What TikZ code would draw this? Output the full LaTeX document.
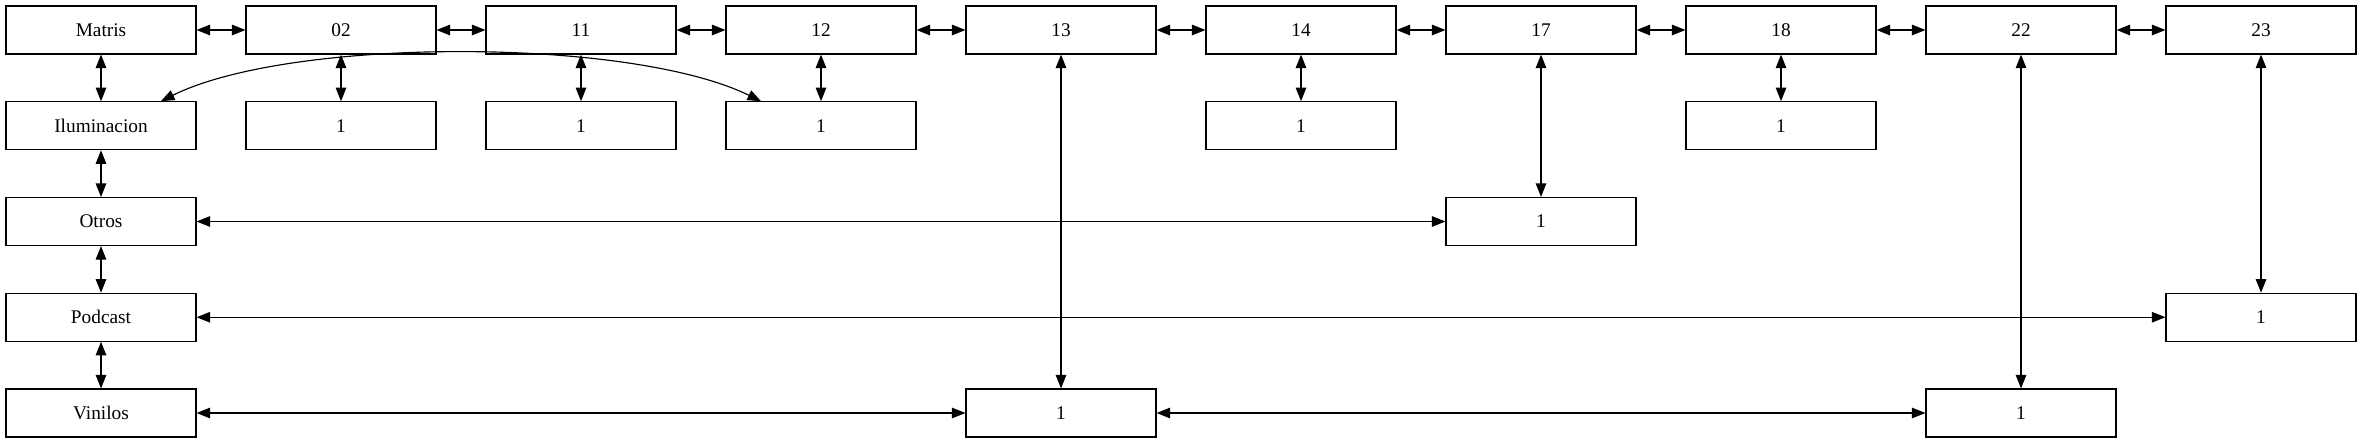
\documentclass[tikz,border=0pt]{standalone}
\usepackage{fontspec}
\setmainfont{Liberation Serif}
\usepackage{tikz}
\usetikzlibrary{arrows.meta, positioning}
\tikzset{
	boxnode/.style={draw, line width=0.65pt, minimum width=3.8cm, minimum height=0.96cm, inner sep=0pt, font=\fontsize{11}{13}\selectfont}
}
\tikzset{
	link/.style={line width=0.65pt, {Triangle[length=2.7mm,width=2.1mm]}-{Triangle[length=2.7mm,width=2.1mm]}}
}

\begin{document}
\begin{tikzpicture}
      \useasboundingbox (0,0) rectangle (47.26,-8.86);
      % top row
      \node[boxnode] (matris) at (2.02,-0.6) {Matris};
      \node[boxnode] (n02) at (6.82,-0.6) {02};
      \node[boxnode] (n11) at (11.62,-0.6) {11};
      \node[boxnode] (n12) at (16.42,-0.6) {12};
      \node[boxnode] (n13) at (21.22,-0.6) {13};
      \node[boxnode] (n14) at (26.02,-0.6) {14};
      \node[boxnode] (n17) at (30.82,-0.6) {17};
      \node[boxnode] (n18) at (35.62,-0.6) {18};
      \node[boxnode] (n22) at (40.42,-0.6) {22};
      \node[boxnode] (n23) at (45.22,-0.6) {23};
      % left column
      \node[boxnode] (ilum) at (2.02,-2.515) {Iluminacion};
      \node[boxnode] (otros) at (2.02,-4.43) {Otros};
      \node[boxnode] (podcast) at (2.02,-6.345) {Podcast};
      \node[boxnode] (vinilos) at (2.02,-8.26) {Vinilos};
      % the ones
      \node[boxnode] (a02) at (6.82,-2.515) {1};
      \node[boxnode] (a11) at (11.62,-2.515) {1};
      \node[boxnode] (a12) at (16.42,-2.515) {1};
      \node[boxnode] (a14) at (26.02,-2.515) {1};
      \node[boxnode] (a18) at (35.62,-2.515) {1};
      \node[boxnode] (a17) at (30.82,-4.43) {1};
      \node[boxnode] (a23) at (45.22,-6.345) {1};
      \node[boxnode] (a13) at (21.22,-8.26) {1};
      \node[boxnode] (a22) at (40.42,-8.26) {1};
      % chain along the top
      \draw[link] (matris) -- (n02);
      \draw[link] (n02) -- (n11);
      \draw[link] (n11) -- (n12);
      \draw[link] (n12) -- (n13);
      \draw[link] (n13) -- (n14);
      \draw[link] (n14) -- (n17);
      \draw[link] (n17) -- (n18);
      \draw[link] (n18) -- (n22);
      \draw[link] (n22) -- (n23);
      % chain down the left
      \draw[link] (matris) -- (ilum);
      \draw[link] (ilum) -- (otros);
      \draw[link] (otros) -- (podcast);
      \draw[link] (podcast) -- (vinilos);
      % columns
      \draw[link] (n02) -- (a02);
      \draw[link] (n11) -- (a11);
      \draw[link] (n12) -- (a12);
      \draw[link] (n14) -- (a14);
      \draw[link] (n18) -- (a18);
      \draw[link] (n17) -- (a17);
      \draw[link] (n23) -- (a23);
      \draw[link] (n13) -- (a13);
      \draw[link] (n22) -- (a22);
      % rows
      \draw[link] (otros) -- (a17);
      \draw[link] (podcast) -- (a23);
      \draw[link] (vinilos) -- (a13);
      \draw[link] (a13) -- (a22);
      % arc passes under the top row
      \draw[link] ([xshift=1.2cm]ilum.north) .. controls (5.8,-0.74) and (12.6,-0.74) .. ([xshift=-1.2cm]a12.north);
    \end{tikzpicture}
\end{document}
